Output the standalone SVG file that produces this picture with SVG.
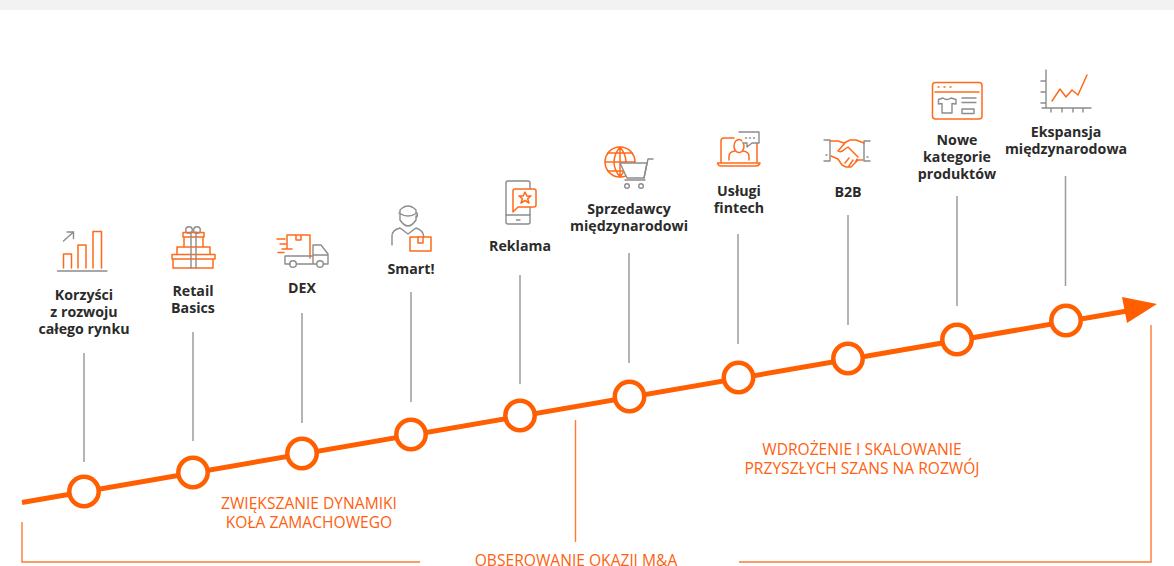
<svg xmlns="http://www.w3.org/2000/svg" width="1174" height="566" viewBox="0 0 1174 566">
<style>
.lbl{font-family:"Open Sans","Liberation Sans",sans-serif;font-weight:700;font-size:14.2px;fill:#2b2b2b;text-anchor:middle}
.cap{font-family:"Open Sans","Liberation Sans",sans-serif;font-size:15.6px;fill:#ff5f0f;text-anchor:middle}
.o{fill:none;stroke:#ff6a1a;stroke-width:1.5;stroke-linejoin:round;stroke-linecap:round}
.g{fill:none;stroke:#8c8c8c;stroke-width:1.4;stroke-linejoin:round;stroke-linecap:round}
.w{fill:#fff}
.stem{stroke:#9c9c9c;stroke-width:1.5;fill:none}
.dot{fill:#fff;stroke:#ff5f00;stroke-width:4.500}
.br{stroke:#ff7a33;stroke-width:1.4;fill:none}
</style>
<rect x="0" y="0" width="1174" height="10" fill="#f2f2f2"/>
<g id="connectors">
<path class="br" d="M22 522V562H420M739 562H1151V325M575.500 420V542"/>
<path class="stem" d="M84 353V462M193 332V441M302 313V423M411 292V402M520 275V384M629 253V363M738 234V344M848 215V325M957 196V306M1065.500 176V286"/>
<path d="M22 502.500L1130 310.500" stroke="#ff5f00" stroke-width="5" fill="none"/>
<polygon points="1122,297 1157,304 1127,323" fill="#ff5f00"/>
<circle class="dot" cx="84" cy="491.500" r="14.700"/><circle class="dot" cx="193" cy="472.500" r="14.700"/><circle class="dot" cx="302" cy="453.500" r="14.700"/><circle class="dot" cx="411" cy="434.500" r="14.700"/><circle class="dot" cx="520" cy="415.500" r="14.700"/><circle class="dot" cx="629.500" cy="396.500" r="14.700"/><circle class="dot" cx="738.500" cy="377.500" r="14.700"/><circle class="dot" cx="848" cy="358.500" r="14.700"/><circle class="dot" cx="957" cy="339.500" r="14.700"/><circle class="dot" cx="1066" cy="320.500" r="14.700"/>
</g>
<g id="node-rynek">
<path class="o" d="M63.500 268V254H71.500V268M78 268V245H86V268M93 268V231.500H101.500V268"/>
<path class="g" d="M57.500 271H107M63.500 241L73.500 232M67 232H73.500V238.500"/>
<text class="lbl" x="84" y="300">Korzyści</text><text class="lbl" x="84" y="317">z rozwoju</text><text class="lbl" x="84" y="334">całego rynku</text>
</g>
<g id="node-retail">
<circle class="g" cx="189" cy="230" r="3.300"/><circle class="g" cx="197" cy="230" r="3.300"/>
<path class="o" d="M173 259V268H213V259M172 254.500H215V259H172ZM177 254V247H210V254M184 247V237H203V247M183 232.500H204V237H183Z"/>
<path class="g" d="M191 232V268M196 232V268"/>
<text class="lbl" x="193" y="296">Retail</text><text class="lbl" x="193" y="313">Basics</text>
</g>
<g id="node-dex">
<path class="o" d="M287 248V235H310V258M296 235V240H301V235M277 239H285M280 244H287M282 249H292M278 252.500H284"/>
<path class="g" d="M289 256H285V264H290M296.500 264H316.500M285 256H313M313 264V245H321L328 254V264H323.500M313 255H328"/>
<circle class="g" cx="293" cy="264" r="3.300"/><circle class="g" cx="320" cy="264" r="3.300"/>
<text class="lbl" x="302" y="293">DEX</text>
</g>
<g id="node-smart">
<path class="g" d="M400 213V210Q408 202 416 210V213M399 213Q408 219 417 213Q418 216 416 218M400 214V220Q408 232 416 220V216M392 245V236Q392 230 400 228L404 231L408 234L412 231L416 228Q423 230 424 237"/>
<rect class="o w" x="410" y="237" width="21" height="14"/>
<path class="o" d="M418 237V243H423V237"/>
<text class="lbl" x="411" y="274">Smart!</text>
</g>
<g id="node-reklama">
<rect class="g" x="506" y="181" width="24" height="43" rx="2"/>
<path class="g" d="M506 215H530M516.500 220H520"/>
<path class="o w" d="M515 189H534Q536 189 536 191V205Q536 207 534 207H518L513 212V191Q513 189 515 189Z"/>
<path class="o" d="M525 192L526.800 196H531L527.700 198.700L529 203L525 200.500L521 203L522.300 198.700L519 196H523.200Z"/>
<text class="lbl" x="520" y="251">Reklama</text>
</g>
<g id="node-sprzedawcy">
<circle class="o" cx="620" cy="162" r="15"/>
<path class="o" d="M620 147V177M605 162H635M620 147Q608 162 620 177M620 147Q632 162 620 177M608 153H632M608 171H632"/>
<path class="g w" d="M620 163H647L644 178H627Z"/>
<path class="g" d="M653 159H648L644 178M625 180H645"/>
<circle class="g" cx="627" cy="186" r="2.300"/><circle class="g" cx="641" cy="186" r="2.300"/>
<text class="lbl" x="629" y="214">Sprzedawcy</text><text class="lbl" x="629" y="231">międzynarodowi</text>
</g>
<g id="node-fintech">
<path class="o" d="M721 163V141Q721 138 724 138H734M750 138H754Q757 138 757 141V163M717.500 163H760Q759 166 756 166H721Q718 166 717.500 163Z"/>
<ellipse class="o" cx="739" cy="146" rx="5" ry="6.500"/>
<path class="o" d="M729 160V156Q729 152 735 151M749 160V156Q749 152 743 151"/>
<path class="g w" d="M739 132H759V143H752L747 147V143H743"/>
<path class="g" d="M745.500 138H746.500M749.500 138H750.500M753.500 138H754.500"/>
<text class="lbl" x="739" y="196">Usługi</text><text class="lbl" x="739" y="213">fintech</text>
</g>
<g id="node-b2b">
<path class="g" d="M824 140H830V161H824M870 141H864V161H870"/>
<path class="g" d="M826 155H827M867 157H868"/>
<path class="o" d="M830 141H838L844 143L850 140H856L864 143M831 156L838 159L842 165L846 167L851 167L855 163L858 160H863M838 151L845 143M838 151Q841 153 845 149L848 147L858 157M845 163L849 158M849 166L853 160M855 163L857 159"/>
<text class="lbl" x="848" y="197">B2B</text>
</g>
<g id="node-kategorie">
<rect class="o" x="932.500" y="82.500" width="49.500" height="36.500" rx="3"/>
<path class="o" d="M935 92H979" stroke-width="1.800"/>
<path class="o" d="M938 87H939M944 87H945M950 87H951"/>
<path class="g" d="M943 98L938.500 99.500V104L942 103.500V113H952V103.500L956 104V99.500L951 98Q947 101 943 98ZM962 98H976M962 102.500H976"/>
<rect class="g" x="962" y="109" width="12" height="4.500"/>
<text class="lbl" x="957" y="145">Nowe</text><text class="lbl" x="957" y="162">kategorie</text><text class="lbl" x="957" y="179">produktów</text>
</g>
<g id="node-ekspansja">
<path class="g" d="M1046 70V108M1042 108H1091M1041 81H1046M1041 92H1046M1041 103H1046M1051 108V112M1062 108V112M1073 108V112M1083 108V112"/>
<path class="o" d="M1052 101L1060 89L1066 97L1072 90L1078 95L1087 75"/>
<text class="lbl" x="1066" y="137">Ekspansja</text><text class="lbl" x="1066" y="154">międzynarodowa</text>
</g>
<g id="phases">
<text class="cap" x="309" y="509">ZWIĘKSZANIE DYNAMIKI</text><text class="cap" x="309" y="528">KOŁA ZAMACHOWEGO</text>
<text class="cap" x="862" y="455">WDROŻENIE I SKALOWANIE</text><text class="cap" x="862" y="474">PRZYSZŁYCH SZANS NA ROZWÓJ</text>
<text class="cap" x="576" y="565.500">OBSEROWANIE OKAZJI M&amp;A</text>
</g>
</svg>
